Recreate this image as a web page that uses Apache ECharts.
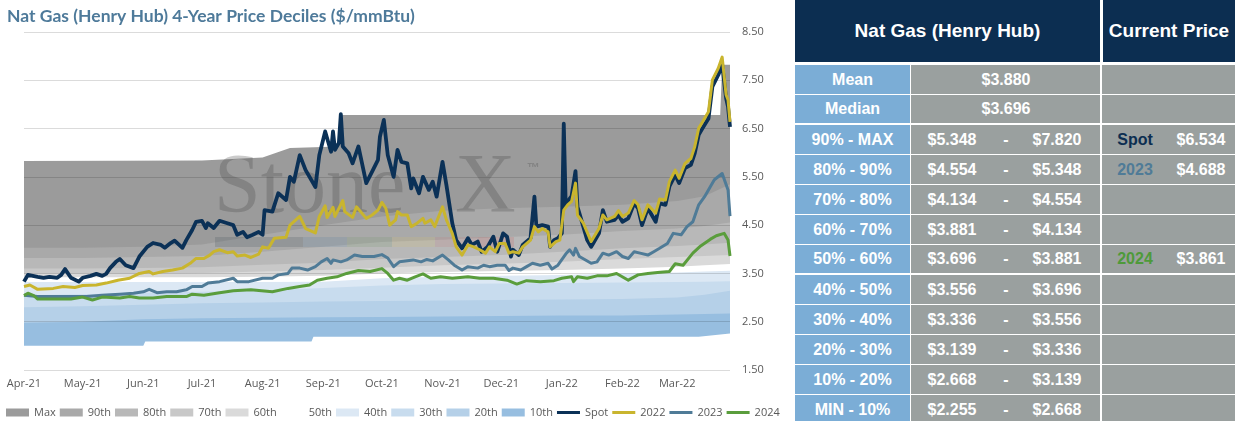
<!DOCTYPE html>
<html>
<head>
<meta charset="utf-8">
<title>Nat Gas (Henry Hub) 4-Year Price Deciles</title>
<script src="https://cdn.jsdelivr.net/npm/echarts@6.0.0/dist/echarts.min.js"></script>
<style>
  html, body { margin: 0; padding: 0; background: #fff; }
  #page { position: relative; width: 1235px; height: 421px; overflow: hidden; }
  #chart { position: absolute; left: 0; top: 0; width: 790px; height: 421px; }
  .cell { position: absolute; box-sizing: border-box; color: #fff;
          font: bold 16px "Liberation Sans", Arial, sans-serif; }
  .head { font-size: 19px; }
  .txt { position: absolute; top: 50%; transform: translate(-50%, -50%); white-space: nowrap; }
</style>
</head>
<body>
<div id="page">
  <div id="chart"></div>
  <div id="table"></div>
</div>
<script>
// Month ticks on the date axis
var monthStarts = ['2021-04-01', '2021-05-01', '2021-06-01', '2021-07-01', '2021-08-01', '2021-09-01',
    '2021-10-01', '2021-11-01', '2021-12-01', '2022-01-01', '2022-02-01', '2022-03-01'];
var monthLabels = ['Apr-21', 'May-21', 'Jun-21', 'Jul-21', 'Aug-21', 'Sep-21',
    'Oct-21', 'Nov-21', 'Dec-21', 'Jan-22', 'Feb-22', 'Mar-22'];

// Rolling 4-year decile levels ($/mmBtu)
var bandDates = ['2021-04-01', '2021-05-01', '2021-06-01', '2021-07-01', '2021-08-01', '2021-09-01', '2021-10-01',
    '2021-11-01', '2021-12-01', '2022-01-01', '2022-02-01', '2022-03-01', '2022-03-15', '2022-03-28'];
var p90 = [4.03, 4.03, 4.05, 4.10, 4.30, 4.50, 4.68, 4.80, 4.85, 4.88, 4.92, 5.00, 5.10, 5.348];
var p80 = [3.82, 3.82, 3.84, 3.86, 3.95, 4.05, 4.15, 4.20, 4.25, 4.30, 4.38, 4.43, 4.48, 4.554];
var p70 = [3.60, 3.60, 3.61, 3.63, 3.68, 3.72, 3.80, 3.84, 3.88, 3.95, 4.02, 4.07, 4.10, 4.134];
var p60 = [3.50, 3.50, 3.50, 3.51, 3.54, 3.57, 3.62, 3.67, 3.70, 3.74, 3.80, 3.84, 3.86, 3.881];
var p50 = [3.42, 3.42, 3.42, 3.42, 3.43, 3.45, 3.50, 3.53, 3.55, 3.57, 3.60, 3.64, 3.67, 3.696];
var p40 = [3.32, 3.32, 3.32, 3.32, 3.32, 3.33, 3.40, 3.43, 3.45, 3.47, 3.50, 3.52, 3.54, 3.556];
var p30 = [3.05, 3.07, 3.10, 3.12, 3.15, 3.20, 3.25, 3.28, 3.29, 3.30, 3.31, 3.32, 3.33, 3.336];
var p20 = [2.80, 2.82, 2.85, 2.88, 2.90, 2.92, 2.93, 2.94, 2.95, 2.96, 2.97, 3.00, 3.06, 3.139];
var p10 = [2.48, 2.50, 2.55, 2.57, 2.58, 2.59, 2.60, 2.61, 2.62, 2.63, 2.63, 2.65, 2.66, 2.668];

var maxDates = ['2021-04-01', '2021-07-01', '2021-08-01', '2021-08-08', '2021-08-15', '2021-09-09',
    '2021-09-10', '2022-03-23', '2022-03-24', '2022-03-28'];
var maxValues = [5.83, 5.84, 5.90, 6.00, 6.10, 6.13, 6.78, 6.78, 7.82, 7.82];
var minDates = ['2021-04-01', '2021-06-01', '2021-06-02', '2021-08-26', '2021-08-27', '2022-03-12', '2022-03-28'];
var minValues = [2.00, 2.00, 2.09, 2.09, 2.19, 2.19, 2.255];

// Price lines
var spotDates = ['2021-04-01', '2021-04-03', '2021-04-08', '2021-04-11', '2021-04-14', '2021-04-18', '2021-04-20',
    '2021-04-22', '2021-04-25', '2021-04-29', '2021-05-01', '2021-05-05', '2021-05-08', '2021-05-11', '2021-05-13',
    '2021-05-15', '2021-05-18', '2021-05-20', '2021-05-23', '2021-05-27', '2021-05-30', '2021-06-03', '2021-06-06',
    '2021-06-10', '2021-06-12', '2021-06-15', '2021-06-17', '2021-06-21', '2021-06-23', '2021-06-26', '2021-06-28',
    '2021-07-01', '2021-07-03', '2021-07-04', '2021-07-07', '2021-07-10', '2021-07-14', '2021-07-17', '2021-07-19',
    '2021-07-22', '2021-07-24', '2021-07-27', '2021-07-30', '2021-08-01', '2021-08-02', '2021-08-06', '2021-08-09',
    '2021-08-13', '2021-08-15', '2021-08-17', '2021-08-20', '2021-08-23', '2021-08-24', '2021-08-28', '2021-08-30',
    '2021-09-02', '2021-09-05', '2021-09-06', '2021-09-07', '2021-09-09', '2021-09-10', '2021-09-11', '2021-09-14',
    '2021-09-16', '2021-09-19', '2021-09-23', '2021-09-26', '2021-09-29', '2021-09-30', '2021-10-02', '2021-10-04',
    '2021-10-07', '2021-10-09', '2021-10-11', '2021-10-14', '2021-10-16', '2021-10-17', '2021-10-20', '2021-10-22',
    '2021-10-25', '2021-10-27', '2021-10-29', '2021-11-01', '2021-11-03', '2021-11-06', '2021-11-08', '2021-11-11',
    '2021-11-14', '2021-11-16', '2021-11-19', '2021-11-21', '2021-11-24', '2021-11-27', '2021-11-29', '2021-12-02',
    '2021-12-04', '2021-12-06', '2021-12-07', '2021-12-10', '2021-12-12', '2021-12-16', '2021-12-18', '2021-12-19',
    '2021-12-22', '2021-12-25', '2021-12-26', '2021-12-28', '2021-12-30', '2022-01-01', '2022-01-02', '2022-01-03',
    '2022-01-05', '2022-01-06', '2022-01-08', '2022-01-09', '2022-01-12', '2022-01-14', '2022-01-16', '2022-01-17',
    '2022-01-20', '2022-01-22', '2022-01-24', '2022-01-28', '2022-01-30', '2022-02-01', '2022-02-04', '2022-02-07',
    '2022-02-09', '2022-02-11', '2022-02-14', '2022-02-18', '2022-02-20', '2022-02-23', '2022-02-25', '2022-02-28',
    '2022-03-02', '2022-03-05', '2022-03-08', '2022-03-10', '2022-03-12', '2022-03-14', '2022-03-17', '2022-03-19',
    '2022-03-22', '2022-03-24', '2022-03-26', '2022-03-27', '2022-03-28'];
var spotPrices = [3.33, 3.47, 3.43, 3.41, 3.43, 3.41, 3.47,
    3.59, 3.41, 3.33, 3.41, 3.45, 3.49, 3.45, 3.49,
    3.61, 3.74, 3.80, 3.67, 3.61, 3.85, 4.05, 4.13,
    4.09, 4.03, 4.13, 4.18, 4.03, 4.19, 4.40, 4.57,
    4.59, 4.44, 4.54, 4.44, 4.59, 4.54, 4.50, 4.30,
    4.36, 4.25, 4.30, 4.36, 4.30, 4.81, 4.78, 5.16,
    5.02, 5.50, 5.40, 5.95, 5.64, 5.61, 5.29, 5.95,
    6.44, 6.02, 6.44, 6.06, 6.20, 6.80, 6.13, 5.99,
    5.78, 6.13, 5.37, 5.61, 5.85, 6.33, 6.68, 5.95,
    5.50, 6.06, 5.81, 5.78, 5.26, 5.47, 5.16, 5.50,
    5.23, 5.40, 5.09, 5.81, 5.33, 4.54, 4.19, 4.02,
    4.23, 4.09, 4.16, 3.95, 4.05, 4.26, 3.95, 4.33,
    4.26, 3.85, 3.99, 3.88, 4.09, 4.23, 5.09, 4.47,
    4.50, 4.47, 4.05, 4.19, 4.23, 4.33, 6.60, 4.90,
    5.05, 5.10, 5.62, 4.88, 4.47, 4.19, 4.05, 4.12,
    4.33, 4.81, 4.57, 4.61, 4.71, 4.57, 4.64, 4.95,
    4.85, 4.50, 4.85, 4.57, 4.95, 4.92, 5.30, 5.54,
    5.37, 5.68, 5.75, 5.99, 6.37, 6.51, 6.71, 7.37,
    7.61, 7.82, 7.13, 6.95, 6.534];

var y2022Dates = ['2021-04-01', '2021-04-04', '2021-04-08', '2021-04-16', '2021-04-21', '2021-04-27', '2021-05-01',
    '2021-05-08', '2021-05-13', '2021-05-19', '2021-05-25', '2021-05-30', '2021-06-04', '2021-06-06', '2021-06-11',
    '2021-06-16', '2021-06-21', '2021-06-25', '2021-06-28', '2021-07-02', '2021-07-05', '2021-07-07', '2021-07-10',
    '2021-07-14', '2021-07-17', '2021-07-19', '2021-07-23', '2021-07-26', '2021-07-30', '2021-08-01', '2021-08-04',
    '2021-08-07', '2021-08-13', '2021-08-15', '2021-08-20', '2021-08-23', '2021-08-28', '2021-08-30', '2021-09-02',
    '2021-09-03', '2021-09-06', '2021-09-07', '2021-09-11', '2021-09-12', '2021-09-16', '2021-09-18', '2021-09-23',
    '2021-09-26', '2021-09-29', '2021-10-01', '2021-10-03', '2021-10-05', '2021-10-08', '2021-10-09', '2021-10-11',
    '2021-10-14', '2021-10-16', '2021-10-19', '2021-10-22', '2021-10-23', '2021-10-26', '2021-10-28', '2021-11-01',
    '2021-11-03', '2021-11-06', '2021-11-08', '2021-11-11', '2021-11-14', '2021-11-17', '2021-11-20', '2021-11-23',
    '2021-11-25', '2021-11-28', '2021-11-30', '2021-12-03', '2021-12-05', '2021-12-07', '2021-12-10', '2021-12-12',
    '2021-12-16', '2021-12-18', '2021-12-20', '2021-12-22', '2021-12-25', '2021-12-26', '2021-12-29', '2021-12-31',
    '2022-01-02', '2022-01-04', '2022-01-06', '2022-01-08', '2022-01-09', '2022-01-12', '2022-01-16', '2022-01-17',
    '2022-01-20', '2022-01-22', '2022-01-24', '2022-01-28', '2022-01-30', '2022-02-01', '2022-02-04', '2022-02-07',
    '2022-02-09', '2022-02-11', '2022-02-14', '2022-02-18', '2022-02-20', '2022-02-23', '2022-02-25', '2022-02-28',
    '2022-03-02', '2022-03-05', '2022-03-08', '2022-03-10', '2022-03-12', '2022-03-14', '2022-03-17', '2022-03-19',
    '2022-03-22', '2022-03-24', '2022-03-26', '2022-03-27', '2022-03-28'];
var y2022Prices = [3.23, 3.26, 3.17, 3.19, 3.23, 3.21, 3.25,
    3.26, 3.30, 3.36, 3.40, 3.50, 3.54, 3.49, 3.54,
    3.57, 3.61, 3.71, 3.81, 3.81, 3.88, 3.95, 3.99,
    3.93, 3.95, 3.86, 3.88, 3.83, 3.90, 4.05, 4.02,
    4.23, 4.25, 4.50, 4.68, 4.43, 4.34, 4.68, 4.90,
    4.66, 4.87, 4.68, 5.01, 4.78, 4.66, 4.88, 4.64,
    4.71, 4.81, 4.97, 4.85, 4.50, 4.61, 4.78, 4.71,
    4.71, 4.47, 4.54, 4.64, 4.54, 4.61, 4.47, 4.88,
    4.61, 4.33, 4.05, 3.88, 4.09, 4.05, 3.99, 3.92,
    4.05, 3.95, 4.12, 4.12, 3.92, 3.95, 3.92, 4.05,
    4.19, 4.47, 4.36, 4.43, 4.36, 4.05, 4.16, 4.19,
    4.81, 4.92, 4.99, 5.37, 4.71, 4.54, 4.16, 4.23,
    4.43, 4.71, 4.61, 4.68, 4.80, 4.68, 4.75, 5.01,
    4.92, 4.61, 4.92, 4.75, 5.04, 5.02, 5.40, 5.64,
    5.47, 5.78, 5.88, 6.13, 6.51, 6.64, 6.85, 7.51,
    7.75, 7.98, 7.20, 7.09, 6.64];

var y2023Dates = ['2021-04-01', '2021-04-08', '2021-04-16', '2021-04-25', '2021-05-03', '2021-05-11', '2021-05-20',
    '2021-05-27', '2021-06-01', '2021-06-04', '2021-06-08', '2021-06-13', '2021-06-18', '2021-06-23', '2021-06-26',
    '2021-07-01', '2021-07-04', '2021-07-10', '2021-07-17', '2021-07-19', '2021-07-25', '2021-08-01', '2021-08-06',
    '2021-08-09', '2021-08-14', '2021-08-16', '2021-08-20', '2021-08-24', '2021-08-28', '2021-08-31', '2021-09-03',
    '2021-09-05', '2021-09-06', '2021-09-10', '2021-09-13', '2021-09-17', '2021-09-21', '2021-09-27', '2021-10-01',
    '2021-10-04', '2021-10-07', '2021-10-10', '2021-10-17', '2021-10-21', '2021-10-24', '2021-10-27', '2021-11-01',
    '2021-11-04', '2021-11-07', '2021-11-11', '2021-11-14', '2021-11-19', '2021-11-22', '2021-11-25', '2021-11-29',
    '2021-12-03', '2021-12-05', '2021-12-07', '2021-12-11', '2021-12-14', '2021-12-17', '2021-12-21', '2021-12-25',
    '2021-12-27', '2021-12-30', '2022-01-03', '2022-01-05', '2022-01-07', '2022-01-08', '2022-01-10', '2022-01-16',
    '2022-01-19', '2022-01-22', '2022-01-25', '2022-01-29', '2022-02-01', '2022-02-04', '2022-02-07', '2022-02-10',
    '2022-02-14', '2022-02-17', '2022-02-20', '2022-02-24', '2022-02-27', '2022-03-03', '2022-03-06', '2022-03-09',
    '2022-03-12', '2022-03-15', '2022-03-18', '2022-03-20', '2022-03-24', '2022-03-27', '2022-03-28'];
var y2023Prices = [3.05, 3.02, 3.02, 3.02, 3.02, 3.05, 3.07,
    3.09, 3.12, 3.17, 3.10, 3.12, 3.12, 3.16, 3.23,
    3.23, 3.30, 3.33, 3.40, 3.33, 3.33, 3.40, 3.40,
    3.47, 3.50, 3.61, 3.61, 3.57, 3.64, 3.74, 3.81,
    3.71, 3.78, 3.74, 3.78, 3.88, 3.85, 3.85, 3.89,
    3.82, 3.64, 3.74, 3.78, 3.74, 3.79, 3.76, 3.88,
    3.78, 3.67, 3.57, 3.64, 3.61, 3.67, 3.64, 3.67,
    3.67, 3.56, 3.61, 3.57, 3.64, 3.71, 3.67, 3.71,
    3.59, 3.67, 3.90, 3.99, 3.88, 4.02, 3.85, 3.71,
    3.74, 3.92, 3.88, 3.95, 3.85, 3.81, 3.95, 3.92,
    3.88, 3.95, 4.02, 4.12, 4.33, 4.30, 4.47, 4.57,
    4.92, 5.09, 5.30, 5.44, 5.57, 5.23, 4.688];

var y2024Dates = ['2021-04-01', '2021-04-03', '2021-04-06', '2021-04-08', '2021-04-16', '2021-04-25', '2021-05-01',
    '2021-05-06', '2021-05-11', '2021-05-20', '2021-05-25', '2021-05-30', '2021-06-06', '2021-06-13', '2021-06-23',
    '2021-06-26', '2021-07-02', '2021-07-10', '2021-07-17', '2021-07-26', '2021-08-06', '2021-08-14', '2021-08-20',
    '2021-08-25', '2021-08-29', '2021-09-03', '2021-09-08', '2021-09-13', '2021-09-19', '2021-09-25', '2021-10-01',
    '2021-10-04', '2021-10-07', '2021-10-10', '2021-10-14', '2021-10-18', '2021-10-22', '2021-10-26', '2021-10-31',
    '2021-11-06', '2021-11-14', '2021-11-20', '2021-11-27', '2021-12-04', '2021-12-09', '2021-12-14', '2021-12-21',
    '2021-12-28', '2022-01-01', '2022-01-06', '2022-01-07', '2022-01-09', '2022-01-14', '2022-01-19', '2022-01-24',
    '2022-01-29', '2022-02-04', '2022-02-09', '2022-02-14', '2022-02-19', '2022-02-25', '2022-02-28', '2022-03-04',
    '2022-03-09', '2022-03-13', '2022-03-18', '2022-03-21', '2022-03-25', '2022-03-27', '2022-03-28'];
var y2024Prices = [3.04, 3.09, 3.04, 2.97, 2.97, 2.97, 3.01,
    2.95, 3.01, 2.99, 3.02, 2.99, 2.99, 3.02, 3.02,
    3.07, 3.05, 3.10, 3.14, 3.16, 3.12, 3.19, 3.23,
    3.26, 3.36, 3.40, 3.43, 3.50, 3.56, 3.54, 3.60,
    3.50, 3.36, 3.40, 3.36, 3.43, 3.49, 3.40, 3.43,
    3.40, 3.43, 3.40, 3.40, 3.36, 3.28, 3.35, 3.33,
    3.35, 3.40, 3.43, 3.33, 3.43, 3.40, 3.45, 3.45,
    3.50, 3.36, 3.47, 3.50, 3.52, 3.54, 3.70, 3.67,
    3.92, 4.07, 4.21, 4.28, 4.33, 4.19, 3.861];

// Table values
var statLabels = ['Mean', 'Median'];
var statValues = [3.880, 3.696];
var decileLabels = ['90% - MAX', '80% - 90%', '70% - 80%', '60% - 70%', '50% - 60%',
    '40% - 50%', '30% - 40%', '20% - 30%', '10% - 20%', 'MIN - 10%'];
var decileLow = [5.348, 4.554, 4.134, 3.881, 3.696, 3.556, 3.336, 3.139, 2.668, 2.255];
var decileHigh = [7.820, 5.348, 4.554, 4.134, 3.881, 3.696, 3.556, 3.336, 3.139, 2.668];
var currentNames = ['Spot', '2023', '2024'];
var currentPrices = [6.534, 4.688, 3.861];

(function () {
    var i;

    // ---- decile table on the right (plain HTML) ----
    var table = document.getElementById('table');
    var navy = '#0c2e51', blue = '#7badd6', gray = '#9aa09f';
    var labelX = 795, labelW = 115, valueX = 911, valueW = 189, curX = 1102, curW = 133;
    var nameColors = { 'Spot': '#0c2e51', '2023': '#4f7b97', '2024': '#4e9a3a' };

    function box(left, top, width, height, bg, cls) {
        var d = document.createElement('div');
        d.className = 'cell' + (cls ? ' ' + cls : '');
        d.style.left = left + 'px';
        d.style.top = top + 'px';
        d.style.width = width + 'px';
        d.style.height = height + 'px';
        d.style.background = bg;
        table.appendChild(d);
        return d;
    }
    function put(parent, text, cx, color) {
        var s = document.createElement('span');
        s.className = 'txt';
        s.style.left = cx + 'px';
        s.textContent = text;
        if (color) s.style.color = color;
        parent.appendChild(s);
    }
    function money(v) { return '$' + v.toFixed(3); }

    var h1 = box(labelX, 0, valueX + valueW - labelX, 62, navy, 'head');
    put(h1, 'Nat Gas (Henry Hub)', (valueX + valueW - labelX) / 2);
    var h2 = box(curX + 1, 0, curW - 1, 62, navy, 'head');
    put(h2, 'Current Price', (curW - 1) / 2);

    var rowLabels = statLabels.concat(decileLabels);
    for (i = 0; i < rowLabels.length; i++) {
        var top = 65 + i * 30;
        var h = (i === 1 || i === 6) ? 28 : 29;
        var c1 = box(labelX, top, labelW, h, blue);
        put(c1, rowLabels[i], labelW / 2);
        var c2 = box(valueX, top, valueW, h, gray);
        var c3 = box(curX, top, curW, h, gray);
        if (i < statLabels.length) {
            put(c2, money(statValues[i]), 95);
        } else {
            var k = i - statLabels.length;
            put(c2, money(decileLow[k]), 41);
            put(c2, '-', 95);
            put(c2, money(decileHigh[k]), 146);
            for (var j = 0; j < currentNames.length; j++) {
                var p = currentPrices[j];
                if (p >= decileLow[k] && p < decileHigh[k]) {
                    put(c3, currentNames[j], 33, nameColors[currentNames[j]]);
                    put(c3, money(p), 99);
                }
            }
        }
    }

    // ---- deciles chart ----
    function day(s) {
        var q = s.split('-');
        return new Date(+q[0], +q[1] - 1, +q[2]).getTime();
    }
    function pairs(dates, values) {
        var out = [];
        for (var n = 0; n < dates.length; n++) out.push([day(dates[n]), values[n]]);
        return out;
    }

    var bands = [
        { name: 'Max', color: '#9b9b9b', dates: maxDates, values: maxValues },
        { name: '90th', color: '#a9a9a9', dates: bandDates, values: p90 },
        { name: '80th', color: '#b8b8b8', dates: bandDates, values: p80 },
        { name: '70th', color: '#c8c8c8', dates: bandDates, values: p70 },
        { name: '60th', color: '#dadada', dates: bandDates, values: p60 },
        { name: '50th', color: '#ffffff', dates: bandDates, values: p50 },
        { name: '40th', color: '#dce8f4', dates: bandDates, values: p40 },
        { name: '30th', color: '#c8dcee', dates: bandDates, values: p30 },
        { name: '20th', color: '#b5d0e8', dates: bandDates, values: p20 },
        { name: '10th', color: '#97bee0', dates: bandDates, values: p10 },
        { name: 'Min', color: '#ffffff', dates: minDates, values: minValues }
    ];
    var lines = [
        { name: 'Spot', color: '#0b3157', width: 3.8, dates: spotDates, values: spotPrices },
        { name: '2022', color: '#c9b52e', width: 3, dates: y2022Dates, values: y2022Prices },
        { name: '2023', color: '#4f7b97', width: 3, dates: y2023Dates, values: y2023Prices },
        { name: '2024', color: '#5a9d3c', width: 3, dates: y2024Dates, values: y2024Prices }
    ];

    // thin bar legend icon for the price lines (bounding box 24 x 8)
    var lineIcon = 'path://M0,0L0.01,0L0.01,8L0,8Z M0,2.5L24,2.5L24,5.5L0,5.5Z';

    var series = [];
    var legendData = [];
    for (i = 0; i < bands.length; i++) {
        var b = bands[i];
        series.push({
            name: b.name, type: 'line', data: pairs(b.dates, b.values),
            symbol: 'none', silent: true, z: 2, color: b.color,
            lineStyle: { width: 0 },
            areaStyle: { color: b.color, opacity: 1, origin: 'start' }
        });
        if (b.name !== 'Min') legendData.push({ name: b.name, icon: 'rect' });
    }
    for (i = 0; i < lines.length; i++) {
        var l = lines[i];
        series.push({
            name: l.name, type: 'line', data: pairs(l.dates, l.values),
            symbol: 'none', silent: true, z: 6, color: l.color,
            lineStyle: { width: l.width, color: l.color, join: 'round' }
        });
        legendData.push({ name: l.name, icon: lineIcon });
    }

    var tickValues = [];
    var tickText = {};
    for (i = 0; i < monthStarts.length; i++) {
        tickValues.push(day(monthStarts[i]));
        tickText[day(monthStarts[i])] = monthLabels[i];
    }

    var wm = 'rgba(70,70,70,0.28)';
    var chart = echarts.init(document.getElementById('chart'), null, { renderer: 'canvas' });
    chart.setOption({
        animation: false,
        title: {
            text: 'Nat Gas (Henry Hub) 4-Year Price Deciles ($/mmBtu)',
            left: 2, top: 2,
            textStyle: { fontFamily: 'Lato', fontSize: 17.5, fontWeight: 'bold', color: '#4e7a9a' }
        },
        grid: { left: 24, right: 60, top: 32, bottom: 51 },
        xAxis: {
            type: 'value',
            min: day('2021-04-01'), max: day('2022-03-28'),
            axisLine: { show: false }, axisTick: { show: false }, splitLine: { show: false },
            axisLabel: {
                customValues: tickValues,
                formatter: function (v) { return tickText[v] || ''; },
                color: '#595959', fontFamily: 'Open Sans', fontSize: 11, margin: 8,
                showMinLabel: true, hideOverlap: false
            }
        },
        yAxis: {
            type: 'value', position: 'right', min: 1.5, max: 8.5, interval: 1, z: 3,
            axisLine: { show: false }, axisTick: { show: false },
            splitLine: { lineStyle: { color: 'rgba(0,0,0,0.14)', width: 1 } },
            axisLabel: {
                formatter: function (v) { return v.toFixed(2); },
                color: '#595959', fontFamily: 'Open Sans', fontSize: 11, margin: 12
            }
        },
        legend: {
            data: legendData, left: 6, top: 407, padding: 0, width: 784,
            itemWidth: 23, itemHeight: 8, itemGap: 4,
            textStyle: { color: '#595959', fontFamily: 'Open Sans', fontSize: 11 }
        },
        graphic: [
            { type: 'text', z: 4, silent: true, style: { x: 214, y: 190, text: 'Stone', fill: wm,
                font: '84px "Liberation Serif"', verticalAlign: 'middle' } },
            { type: 'text', z: 4, silent: true, style: { x: 455, y: 190, text: 'X', fill: wm,
                font: '84px "Liberation Serif"', verticalAlign: 'middle' } },
            { type: 'text', z: 4, silent: true, style: { x: 527, y: 168, text: '\u2122', fill: wm,
                font: 'bold 13px "Liberation Sans"', verticalAlign: 'middle' } },
            { type: 'rect', z: 4, silent: true, shape: { x: 215, y: 237, width: 88, height: 10 },
                style: { fill: 'rgba(70,80,90,0.22)' } },
            { type: 'rect', z: 4, silent: true, shape: { x: 303, y: 237, width: 44, height: 10 },
                style: { fill: 'rgba(80,120,160,0.18)' } },
            { type: 'rect', z: 4, silent: true, shape: { x: 347, y: 237, width: 45, height: 10 },
                style: { fill: 'rgba(110,150,100,0.18)' } },
            { type: 'rect', z: 4, silent: true, shape: { x: 392, y: 237, width: 43, height: 10 },
                style: { fill: 'rgba(210,190,110,0.2)' } },
            { type: 'rect', z: 4, silent: true, shape: { x: 435, y: 237, width: 43, height: 10 },
                style: { fill: 'rgba(200,120,120,0.18)' } },
            { type: 'rect', z: 4, silent: true, shape: { x: 478, y: 237, width: 36, height: 10 },
                style: { fill: 'rgba(200,100,100,0.22)' } }
        ],
        series: series
    });
})();
</script>
</body>
</html>
